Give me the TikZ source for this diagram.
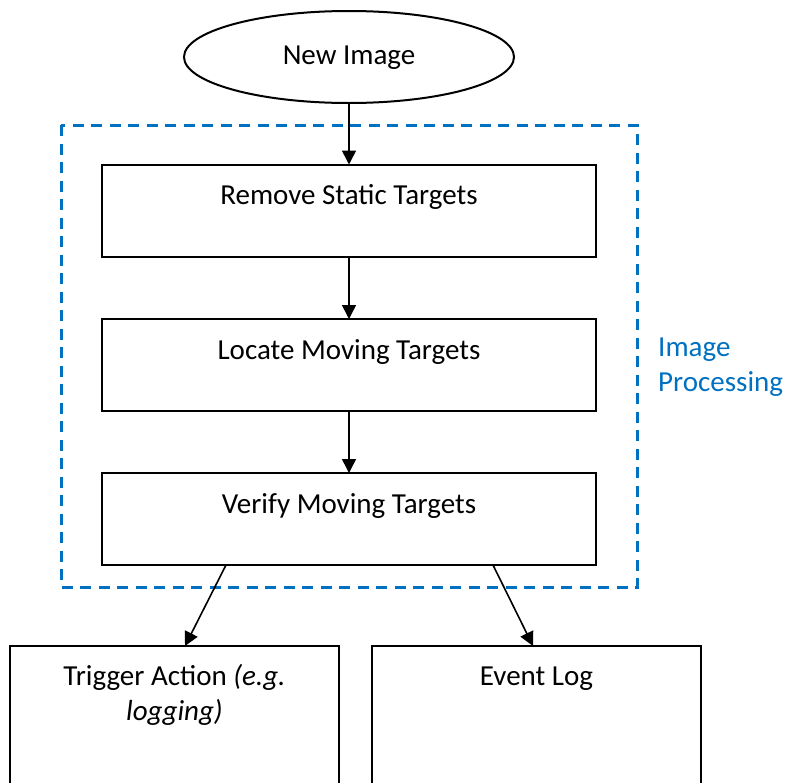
\documentclass[tikz,border=0pt]{standalone}
\usepackage{fontspec}
\setmainfont{Carlito}
\usetikzlibrary{arrows.meta,shapes.geometric}
\definecolor{wblue}{RGB}{0,112,192}
\begin{document}
\begin{tikzpicture}[x=1pt,y=-1pt,
  font=\fontsize{29}{35.4}\selectfont,
  stepbox/.style={draw=black,line width=2pt,rectangle,inner sep=0pt,outer sep=0pt,minimum width=494pt,minimum height=92pt},
  outbox/.style={draw=black,line width=2pt},
  lbl/.style={anchor=base,inner sep=0pt},
  arr/.style={draw=black,line width=1.6pt,-{Triangle[length=14pt,width=14pt]}},
  grp/.style={draw=wblue,line width=3pt,dash pattern=on 11pt off 7.5pt}]
\useasboundingbox (0,0) rectangle (787,782);
\clip (0,0) rectangle (787,782);
% group frame
\draw[grp] (61,125) rectangle (637,587);
% start ellipse
\node[ellipse,draw=black,line width=2pt,inner sep=0pt,outer sep=0pt,minimum width=330pt,minimum height=92pt] (ell) at (349,57) {};
\node[lbl] (tell) at (349,64) {New Image};
% steps
\node[stepbox] (b1) at (349,210.5) {};
\node[lbl] (t1) at (349,204) {Remove Static Targets};
\node[stepbox] (b2) at (349,365) {};
\node[lbl] (t2) at (349,359) {Locate Moving Targets};
\node[stepbox] (b3) at (349,519) {};
\node[lbl] (t3) at (349,513) {Verify Moving Targets};
% group label
\node[anchor=base west,inner sep=0pt,text=wblue] (g1) at (658,356) {Image};
\node[anchor=base west,inner sep=0pt,text=wblue] (g2) at (658,391) {Processing};
% output boxes
\draw[outbox] (10,800) -- (10,646) coordinate (ltl) -- (339,646) coordinate (ltr) -- (339,800);
\draw[outbox] (372,800) -- (372,646) coordinate (rtl) -- (701,646) coordinate (rtr) -- (701,800);
\node[lbl] (ta1) at (174.5,685) {Trigger Action \textit{(e.g.}};
\node[lbl] (ta2) at (174.5,720) {\textit{logging)}};
\node[lbl] (te) at (536.5,685) {Event Log};
% connectors
\coordinate (s1) at (226,565);
\coordinate (e1) at (185,646);
\coordinate (s2) at (493,565);
\coordinate (e2) at (533,646);
\draw[arr] (ell.south) -- (b1.north);
\draw[arr] (b1.south) -- (b2.north);
\draw[arr] (b2.south) -- (b3.north);
\draw[arr] (s1) -- (e1);
\draw[arr] (s2) -- (e2);
\end{tikzpicture}
\end{document}
